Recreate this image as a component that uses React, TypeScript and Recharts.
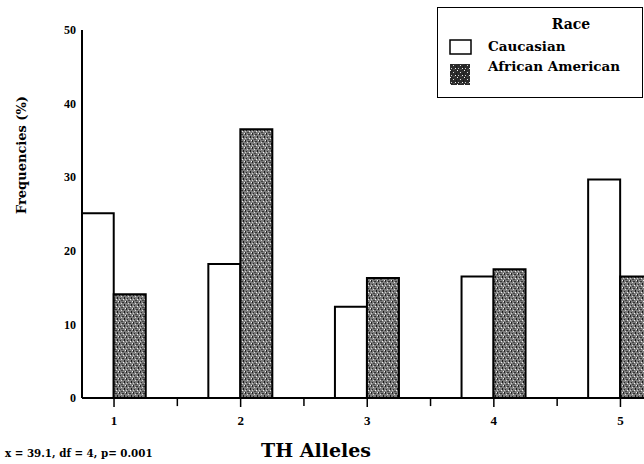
import { BarChart, Bar, XAxis, YAxis, ReferenceLine } from "recharts";

const alleles = [1, 2, 3, 4, 5];
const caucasian = [25.1, 18.2, 12.4, 16.5, 29.7];
const africanAmerican = [14.1, 36.5, 16.3, 17.5, 16.5];
const yTicks = [0, 10, 20, 30, 40, 50];
const minorTicks = [1.5, 2.5, 3.5, 4.5];

const data = alleles.map((allele, i) => ({
  allele,
  caucasian: caucasian[i],
  africanAmerican: africanAmerican[i],
}));

const serif = "'DejaVu Serif', serif";
const tickFont = "'Liberation Serif', serif";

function Speckle({ id, base }: { id: string; base: string }) {
  return (
    <pattern id={id} width="7" height="7" patternUnits="userSpaceOnUse">
      <rect width="7" height="7" fill={base} />
      <rect x="0" y="0" width="1" height="2" fill="#222" />
      <rect x="3" y="1" width="2" height="1" fill="#333" />
      <rect x="5" y="3" width="1" height="2" fill="#1a1a1a" />
      <rect x="1" y="4" width="1" height="1" fill="#2a2a2a" />
      <rect x="2" y="6" width="2" height="1" fill="#444" />
      <rect x="6" y="0" width="1" height="1" fill="#eee" />
      <rect x="2" y="2" width="1" height="1" fill="#ddd" />
      <rect x="4" y="5" width="1" height="1" fill="#f0f0f0" />
      <rect x="0" y="5" width="1" height="1" fill="#ccc" />
    </pattern>
  );
}

function Legend() {
  return (
    <svg
      width={207}
      height={92}
      style={{ position: "absolute", left: 437, top: 7 }}
    >
      <defs>
        <Speckle id="speckleDark" base="#2b2b2b" />
      </defs>
      <rect x={0.5} y={0.5} width={205} height={90} fill="#fff" stroke="#000" strokeWidth={1} />
      <text x={134} y={22} textAnchor="middle" fontFamily={serif} fontWeight="bold" fontSize={14}>
        Race
      </text>
      <rect x={13} y={33} width={21} height={14} fill="#fff" stroke="#000" strokeWidth={1.5} />
      <rect x={13} y={57} width={20} height={21} fill="url(#speckleDark)" />
      <text x={51} y={44} fontFamily={serif} fontWeight="bold" fontSize={13.5}>
        Caucasian
      </text>
      <text x={51} y={64} fontFamily={serif} fontWeight="bold" fontSize={13.5}>
        African American
      </text>
    </svg>
  );
}

export default function App() {
  return (
    <div
      style={{
        position: "fixed",
        left: 0,
        top: 0,
        width: 644,
        height: 464,
        overflow: "hidden",
        background: "#fff",
      }}
    >
      <BarChart
        width={644}
        height={464}
        data={data}
        barGap={0}
        margin={{ top: 30, right: 0, bottom: 0, left: 0 }}
      >
        <defs>
          <Speckle id="speckle" base="#7c7c7c" />
        </defs>
        <XAxis
          type="number"
          dataKey="allele"
          domain={[0.747, 5.186]}
          allowDataOverflow
          ticks={alleles}
          height={66}
          tickSize={9}
          tickMargin={9}
          axisLine={{ stroke: "#000", strokeWidth: 2 }}
          tickLine={{ stroke: "#000", strokeWidth: 1.5 }}
          tick={{ fill: "#000", fontSize: 13, fontWeight: "bold", fontFamily: tickFont }}
          label={{
            content: ({ viewBox }: any) => (
              <g>
                <text
                  x={viewBox.x + 234}
                  y={viewBox.y + 59}
                  textAnchor="middle"
                  fontFamily={serif}
                  fontWeight="bold"
                  fontSize={19}
                  fill="#000"
                >
                  TH Alleles
                </text>
                <text
                  x={viewBox.x - 77}
                  y={viewBox.y + 59}
                  fontFamily={serif}
                  fontWeight="bold"
                  fontSize={10.3}
                  fill="#000"
                >
                  x = 39.1, df = 4, p= 0.001
                </text>
              </g>
            ),
          }}
        />
        <YAxis
          domain={[0, 50]}
          ticks={yTicks}
          width={82}
          tickLine={false}
          tickSize={0}
          tickMargin={6}
          axisLine={{ stroke: "#000", strokeWidth: 2 }}
          tick={{ fill: "#000", fontSize: 12, fontWeight: "bold", fontFamily: tickFont }}
          label={{
            content: ({ viewBox }: any) => (
              <text
                x={viewBox.x + 21}
                y={viewBox.y + 125}
                textAnchor="middle"
                dominantBaseline="central"
                transform={`rotate(-90, ${viewBox.x + 21}, ${viewBox.y + 125})`}
                fontFamily={serif}
                fontWeight="bold"
                fontSize={13}
                fill="#000"
              >
                Frequencies (%)
              </text>
            ),
          }}
        />
        {minorTicks.map((t) => (
          <ReferenceLine
            key={t}
            segment={[
              { x: t, y: 0 },
              { x: t, y: -1.1 },
            ]}
            stroke="#000"
            strokeWidth={1.5}
            ifOverflow="visible"
          />
        ))}
        <Bar
          dataKey="caucasian"
          barSize={32}
          fill="#fff"
          stroke="#000"
          strokeWidth={2}
          isAnimationActive={false}
        />
        <Bar
          dataKey="africanAmerican"
          barSize={32}
          fill="url(#speckle)"
          stroke="#000"
          strokeWidth={2}
          isAnimationActive={false}
        />
      </BarChart>
      <Legend />
    </div>
  );
}
